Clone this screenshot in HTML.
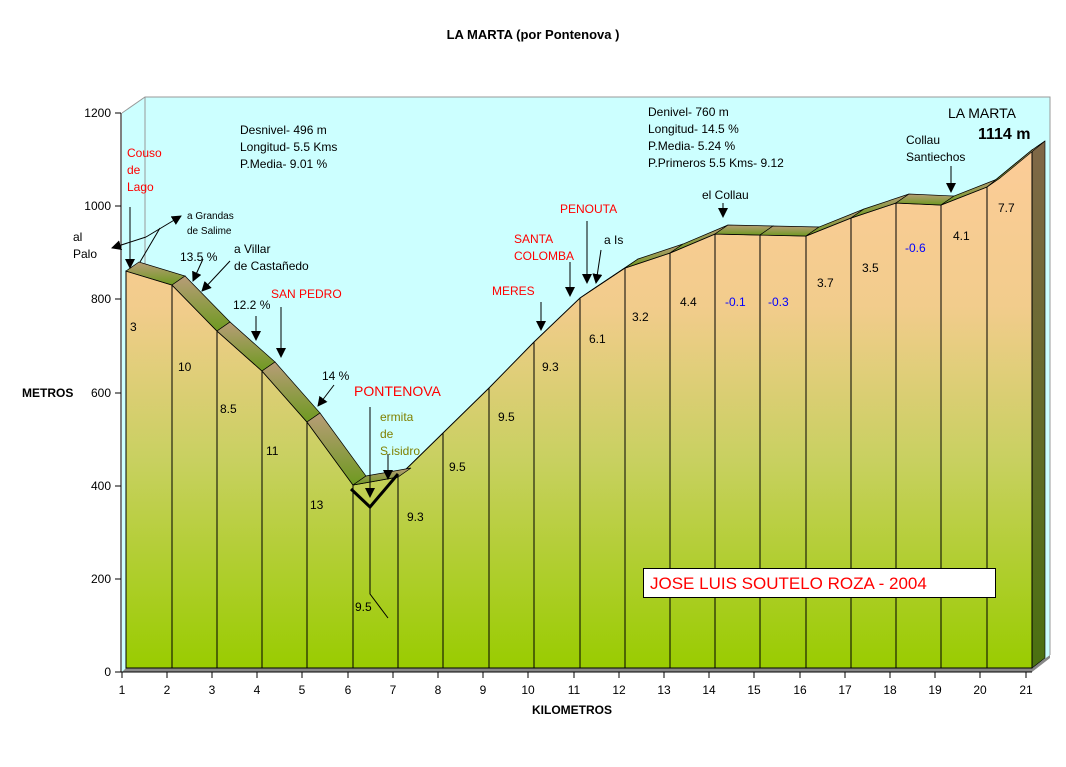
<!DOCTYPE html>
<html><head><meta charset="utf-8"><style>
body{margin:0;background:#fff}
svg{display:block;font-family:"Liberation Sans",sans-serif}
</style></head><body>
<svg width="1066" height="767" viewBox="0 0 1066 767" xmlns="http://www.w3.org/2000/svg">
<defs>
<linearGradient id="face" gradientUnits="userSpaceOnUse" x1="0" y1="150" x2="0" y2="668">
<stop offset="0" stop-color="#fccc98"/>
<stop offset="0.3" stop-color="#f2cc8c"/>
<stop offset="0.6" stop-color="#c8d060"/>
<stop offset="1" stop-color="#99cc00"/>
</linearGradient>
<linearGradient id="band" x1="0" y1="0" x2="0" y2="1">
<stop offset="0" stop-color="#b89c78"/>
<stop offset="1" stop-color="#6e9a20"/>
</linearGradient>
<linearGradient id="wall" x1="0" y1="0" x2="0" y2="1">
<stop offset="0" stop-color="#806848"/>
<stop offset="1" stop-color="#4a7010"/>
</linearGradient>
<marker id="ah" viewBox="0 0 10 10" refX="9" refY="5" markerWidth="10" markerHeight="10" orient="auto-start-reverse"><path d="M0,0L10,5L0,10z" fill="#000"/></marker>
</defs>
<rect width="1066" height="767" fill="#fff"/>
<text x="533" y="39" font-size="13" font-weight="bold" text-anchor="middle">LA MARTA (por Pontenova )</text>
<polygon points="122,113 145,97 1050,97 1050,655 1032,668 122,672" fill="#ccffff"/>
<polyline points="122,113 145,97 1050,97 1050,655" fill="none" stroke="#999" stroke-width="1"/>
<line x1="145" y1="97" x2="145" y2="265" stroke="#999"/>
<polygon points="122,672 126,668 1032,668 1050,655 1050,658 1032,672" fill="#888"/>
<polygon points="1032,150 1045,141 1045,658 1032,668" fill="url(#wall)" stroke="#000" stroke-width="0.6"/>
<polygon fill="url(#face)" stroke="#000" stroke-width="1" points="126,668 126,271 172,285 217,331 262,371 307,422 353,485 398,477 443,433 489,388 534,342 580,298 625,268 670,253 715,234 760,235 806,236 851,218 896,203 941,205 987,187 1032,150 1032,668"/>
<g fill="url(#band)" stroke="#000" stroke-width="0.7">
<polygon points="126,271 172,285 185,276 139,262"/>
<polygon points="172,285 217,331 230,322 185,276"/>
<polygon points="217,331 262,371 275,362 230,322"/>
<polygon points="262,371 307,422 320,413 275,362"/>
<polygon points="307,422 353,485 366,476 320,413"/>
<polygon points="353,485 398,477 411,468 366,476"/>
<polygon points="580,298 625,268 638,259 593,289"/>
<polygon points="625,268 670,253 683,244 638,259"/>
<polygon points="670,253 715,234 728,225 683,244"/>
<polygon points="715,234 760,235 773,226 728,225"/>
<polygon points="760,235 806,236 819,227 773,226"/>
<polygon points="806,236 851,218 864,209 819,227"/>
<polygon points="851,218 896,203 909,194 864,209"/>
<polygon points="896,203 941,205 954,196 909,194"/>
<polygon points="941,205 987,187 1000,178 954,196"/>
<polygon points="987,187 1032,150 1045,141 1000,178"/>
</g>
<g stroke="#000" stroke-width="1">
<line x1="172" y1="285" x2="172" y2="668"/><line x1="217" y1="331" x2="217" y2="668"/>
<line x1="262" y1="371" x2="262" y2="668"/><line x1="307" y1="422" x2="307" y2="668"/>
<line x1="353" y1="485" x2="353" y2="668"/><line x1="398" y1="477" x2="398" y2="668"/>
<line x1="443" y1="433" x2="443" y2="668"/><line x1="489" y1="388" x2="489" y2="668"/>
<line x1="534" y1="342" x2="534" y2="668"/><line x1="580" y1="298" x2="580" y2="668"/>
<line x1="625" y1="268" x2="625" y2="668"/><line x1="670" y1="253" x2="670" y2="668"/>
<line x1="715" y1="234" x2="715" y2="668"/><line x1="760" y1="235" x2="760" y2="668"/>
<line x1="806" y1="236" x2="806" y2="668"/><line x1="851" y1="218" x2="851" y2="668"/>
<line x1="896" y1="203" x2="896" y2="668"/><line x1="941" y1="205" x2="941" y2="668"/>
<line x1="987" y1="187" x2="987" y2="668"/>
</g>
<g stroke="#000" stroke-width="1">
<line x1="121" y1="113" x2="121" y2="672"/><line x1="121" y1="672" x2="1032" y2="672"/>
<line x1="115" y1="113" x2="121" y2="113"/><line x1="115" y1="206" x2="121" y2="206"/>
<line x1="115" y1="299" x2="121" y2="299"/><line x1="115" y1="393" x2="121" y2="393"/>
<line x1="115" y1="486" x2="121" y2="486"/><line x1="115" y1="579" x2="121" y2="579"/>
<line x1="115" y1="672" x2="121" y2="672"/>
</g>
<g font-size="12" text-anchor="end">
<text x="111" y="117">1200</text><text x="111" y="210">1000</text><text x="111" y="303">800</text>
<text x="111" y="397">600</text><text x="111" y="490">400</text><text x="111" y="583">200</text><text x="111" y="676">0</text>
</g>
<g stroke="#000">
<line x1="122" y1="672" x2="122" y2="678"/><line x1="167" y1="672" x2="167" y2="678"/><line x1="212" y1="672" x2="212" y2="678"/><line x1="257" y1="672" x2="257" y2="678"/><line x1="302" y1="672" x2="302" y2="678"/><line x1="348" y1="672" x2="348" y2="678"/><line x1="393" y1="672" x2="393" y2="678"/><line x1="438" y1="672" x2="438" y2="678"/><line x1="483" y1="672" x2="483" y2="678"/><line x1="528" y1="672" x2="528" y2="678"/><line x1="574" y1="672" x2="574" y2="678"/><line x1="619" y1="672" x2="619" y2="678"/><line x1="664" y1="672" x2="664" y2="678"/><line x1="709" y1="672" x2="709" y2="678"/><line x1="754" y1="672" x2="754" y2="678"/><line x1="800" y1="672" x2="800" y2="678"/><line x1="845" y1="672" x2="845" y2="678"/><line x1="890" y1="672" x2="890" y2="678"/><line x1="935" y1="672" x2="935" y2="678"/><line x1="980" y1="672" x2="980" y2="678"/><line x1="1026" y1="672" x2="1026" y2="678"/>
</g>
<g font-size="12" text-anchor="middle">
<text x="122" y="694">1</text><text x="167" y="694">2</text><text x="212" y="694">3</text><text x="257" y="694">4</text><text x="302" y="694">5</text><text x="348" y="694">6</text><text x="393" y="694">7</text><text x="438" y="694">8</text><text x="483" y="694">9</text><text x="528" y="694">10</text><text x="574" y="694">11</text><text x="619" y="694">12</text><text x="664" y="694">13</text><text x="709" y="694">14</text><text x="754" y="694">15</text><text x="800" y="694">16</text><text x="845" y="694">17</text><text x="890" y="694">18</text><text x="935" y="694">19</text><text x="980" y="694">20</text><text x="1026" y="694">21</text>
</g>
<text x="22" y="397" font-size="12" font-weight="bold">METROS</text>
<text x="572" y="714" font-size="12" font-weight="bold" text-anchor="middle">KILOMETROS</text>
<g font-size="12">
<text x="130" y="331">3</text><text x="178" y="371">10</text><text x="220" y="413">8.5</text><text x="266" y="455">11</text><text x="310" y="509">13</text><text x="407" y="521">9.3</text><text x="449" y="471">9.5</text><text x="498" y="421">9.5</text><text x="542" y="371">9.3</text><text x="589" y="343">6.1</text><text x="632" y="321">3.2</text><text x="680" y="306">4.4</text><text x="817" y="287">3.7</text><text x="862" y="272">3.5</text><text x="953" y="240">4.1</text><text x="998" y="212">7.7</text><text x="355" y="611">9.5</text>
<text x="725" y="306" fill="#0000ff">-0.1</text><text x="768" y="306" fill="#0000ff">-0.3</text><text x="905" y="252" fill="#0000ff">-0.6</text>
</g>
<polyline points="351,489 370,507 398,474" fill="none" stroke="#000" stroke-width="3"/>
<polyline points="370,507 370,594 388,618" fill="none" stroke="#000" stroke-width="1"/>
<g stroke="#000" stroke-width="1" fill="none" marker-end="url(#ah)">
<line x1="130" y1="207" x2="130" y2="268"/>
<line x1="203" y1="259" x2="193" y2="281"/>
<line x1="230" y1="261" x2="202" y2="291"/>
<line x1="256" y1="316" x2="256" y2="340"/>
<line x1="281" y1="307" x2="281" y2="357"/>
<line x1="334" y1="385" x2="318" y2="406"/>
<line x1="370" y1="407" x2="370" y2="497"/>
<line x1="388" y1="454" x2="388" y2="479"/>
<line x1="541" y1="302" x2="541" y2="330"/>
<line x1="570" y1="262" x2="570" y2="296"/>
<line x1="587" y1="221" x2="587" y2="283"/>
<line x1="601" y1="250" x2="596" y2="283"/>
<line x1="723" y1="203" x2="723" y2="217"/>
<line x1="951" y1="166" x2="951" y2="192"/>
<line x1="146" y1="237" x2="181" y2="216"/>
<line x1="146" y1="237" x2="112" y2="248"/>
</g>
<line x1="140" y1="262" x2="160" y2="228" stroke="#000"/>
<g font-size="12">
<text x="127" y="157" fill="#ff0000">Couso</text><text x="127" y="174" fill="#ff0000">de</text><text x="127" y="191" fill="#ff0000">Lago</text>
<text x="73" y="241">al</text><text x="73" y="258">Palo</text>
<text x="187" y="219" font-size="10">a Grandas</text><text x="187" y="234" font-size="10">de Salime</text>
<text x="180" y="261">13.5 %</text>
<text x="234" y="253">a Villar</text><text x="234" y="270">de Castañedo</text>
<text x="233" y="309">12.2 %</text>
<text x="271" y="298" fill="#ff0000">SAN PEDRO</text>
<text x="322" y="380">14 %</text>
<text x="354" y="396" fill="#ff0000" font-size="14">PONTENOVA</text>
<text x="380" y="421" fill="#808000">ermita</text><text x="380" y="438" fill="#808000">de</text><text x="380" y="455" fill="#808000">S.isidro</text>
<text x="492" y="295" fill="#ff0000">MERES</text>
<text x="514" y="243" fill="#ff0000">SANTA</text><text x="514" y="260" fill="#ff0000">COLOMBA</text>
<text x="560" y="213" fill="#ff0000">PENOUTA</text>
<text x="604" y="244">a Is</text>
<text x="702" y="199">el Collau</text>
<text x="906" y="144">Collau</text><text x="906" y="161">Santiechos</text>
<text x="948" y="118" font-size="14">LA MARTA</text>
<text x="978" y="139" font-size="16" font-weight="bold">1114 m</text>
<text x="240" y="134">Desnivel- 496 m</text><text x="240" y="151">Longitud- 5.5 Kms</text><text x="240" y="168">P.Media- 9.01 %</text>
<text x="648" y="116">Denivel- 760 m</text><text x="648" y="133">Longitud- 14.5 %</text><text x="648" y="150">P.Media- 5.24 %</text><text x="648" y="167">P.Primeros 5.5 Kms- 9.12</text>
</g>
<rect x="643.5" y="568.5" width="352" height="29" fill="#fff" stroke="#000"/>
<text x="650" y="589" font-size="17" fill="#ff0000">JOSE LUIS SOUTELO ROZA - 2004</text>
</svg>
</body></html>
